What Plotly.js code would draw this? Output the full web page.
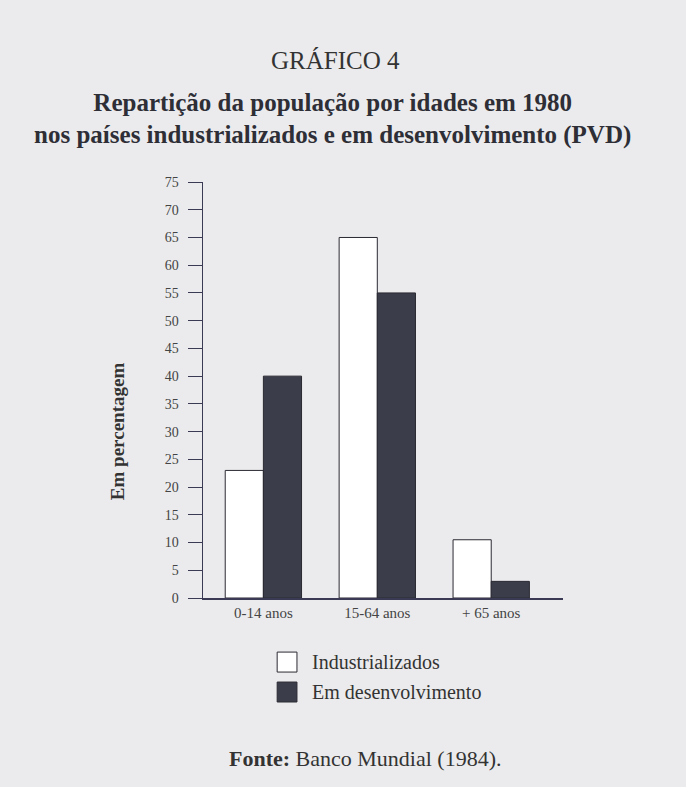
<!DOCTYPE html>
<html><head><meta charset="utf-8">
<script src="https://cdn.plot.ly/plotly-3.0.1.min.js"></script>
<style>body{margin:0;background:#ebebed;}</style>
</head><body>
<div id="chart" style="width:686px;height:787px;"></div>
<script>
const categories = ["0-14 anos", "15-64 anos", "+ 65 anos"];
const industrializados = [23, 65, 10.5];
const emDesenvolvimento = [40, 55, 3];
const seriesNames = ["Industrializados", "Em desenvolvimento"];
const seriesColors = ["#ffffff", "#3b3e4a"];
const yTicks = [0,5,10,15,20,25,30,35,40,45,50,55,60,65,70,75];

const serif = "Liberation Serif, Times New Roman, serif";
const outline = "#2a2a32";
const traces = [
  {type:"bar", name:seriesNames[0], x:categories, y:industrializados,
   marker:{color:seriesColors[0], line:{color:outline, width:1}}},
  {type:"bar", name:seriesNames[1], x:categories, y:emDesenvolvimento,
   marker:{color:seriesColors[1], line:{color:outline, width:1}}}
];

// Manual legend (larger swatches like the reference)
const legendRows = [-0.154, -0.226];
const shapes = seriesNames.map((n, i) => ({
  type:"rect", xref:"paper", yref:"paper",
  x0:0.206, x1:0.261, y0:legendRows[i]-0.024, y1:legendRows[i]+0.024,
  fillcolor:seriesColors[i], line:{color:outline, width:1}
}));
const legendTexts = seriesNames.map((n, i) => ({
  text:n, xref:"paper", yref:"paper", x:0.297, y:legendRows[i], xanchor:"left", yanchor:"middle",
  showarrow:false, font:{family:serif, size:20, color:"#333"}
}));

const layout = {
  width:686, height:787,
  paper_bgcolor:"#ebebed", plot_bgcolor:"rgba(0,0,0,0)",
  margin:{l:203, r:123, t:182, b:189},
  barmode:"group", bargap:0.33, bargroupgap:0,
  font:{family:serif, color:"#333"},
  showlegend:false,
  title:{text:"<b>Repartição da população por idades em 1980<br>nos países industrializados e em desenvolvimento (PVD)</b>",
         x:0.485, xanchor:"center", y:0.859, yanchor:"middle",
         font:{family:serif, size:25, color:"#2e2e36"}},
  xaxis:{type:"category", range:[-0.53, 2.63], showline:true, linecolor:"#3a3a55", linewidth:1.5,
         ticks:"", showgrid:false, tickfont:{family:serif, size:15, color:"#444"}, fixedrange:true},
  yaxis:{range:[0,75], tickvals:yTicks, showline:true, linecolor:"#3a3a55", linewidth:1.5,
         ticks:"outside", ticklen:14, tickcolor:"#3a3a55", showgrid:false, zeroline:false,
         tickfont:{family:serif, size:14, color:"#444"}, ticklabelstandoff:6},
  shapes: shapes,
  annotations:[
    {text:"GRÁFICO 4", xref:"paper", yref:"paper", x:0.367, y:1.293, xanchor:"center", yanchor:"middle",
     showarrow:false, font:{family:serif, size:25, color:"#333"}},
    {text:"<b>Em percentagem</b>", xref:"paper", yref:"paper", x:-0.239, y:0.401, textangle:-90,
     xanchor:"center", yanchor:"middle", showarrow:false, font:{family:serif, size:19, color:"#333"}},
    {text:"<b>Fonte:</b> Banco Mundial (1984).", xref:"paper", yref:"paper", x:0.45, y:-0.385,
     xanchor:"center", yanchor:"middle", showarrow:false, font:{family:serif, size:22, color:"#333"}}
  ].concat(legendTexts)
};
Plotly.newPlot("chart", traces, layout, {displayModeBar:false, staticPlot:true});
</script>
</body></html>
